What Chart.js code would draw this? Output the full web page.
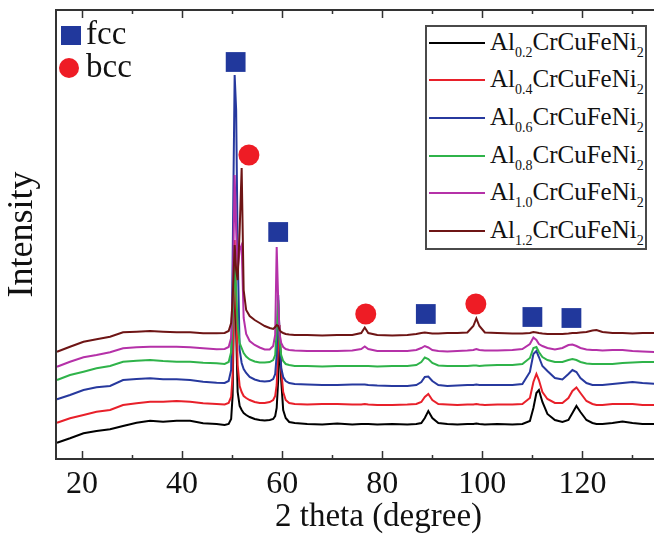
<!DOCTYPE html>
<html>
<head>
<meta charset="utf-8">
<title>XRD AlxCrCuFeNi2</title>
<script src="https://cdn.jsdelivr.net/npm/chart.js@4.4.1/dist/chart.umd.min.js"></script>
<style>
  body { margin: 0; background: #fff; }
  #wrap { position: relative; width: 654px; height: 537px; overflow: hidden; }
  #wrap canvas { position: absolute; left: 0; top: 0; }
  .phase { position: absolute; left: 86px; font: 33px "Liberation Serif", serif; line-height: 33px; color: #111; }
  .sym { position: absolute; }
  #xTitle { position: absolute; left: 275px; top: 499px; font: 33px "Liberation Serif", serif;
            line-height: 33px; color: #111; white-space: nowrap; }
  #alloyLegend { position: absolute; left: 425px; top: 25px; width: 222px; height: 225px;
                 box-sizing: border-box; border: 2px solid #4a4a4a; background: #fff; }
  .row { position: absolute; left: 0; height: 30px; width: 100%; }
  .row .ln { position: absolute; left: 2px; top: 14px; width: 56px; height: 2px; }
  .row .tx { position: absolute; left: 63px; top: 0px; font: 25px "Liberation Serif", serif;
             line-height: 27px; color: #111; white-space: nowrap; }
  .row sub { font-size: 14px; vertical-align: -7px; line-height: 0; }
</style>
</head>
<body>
<div id="wrap">
  <canvas id="xrd"></canvas>
  <div class="sym" style="left:61px;top:26px;width:20px;height:19px;background:#21389c"></div>
  <div class="phase" style="top:17px">fcc</div>
  <div class="sym" style="left:59px;top:58px;width:20px;height:20px;border-radius:50%;background:#ee1c25"></div>
  <div class="phase" style="top:50px">bcc</div>
  <div id="xTitle">2 theta (degree)</div>
  <div id="alloyLegend"></div>
</div>
<script>
// 2 theta grid (degree)
const twoTheta = [
  15, 17.6, 20.3, 22.9, 25.6, 28.2, 30.9, 33.6, 36.2, 38.9, 41.6, 44.2, 46.9,
  48.5, 49.3, 49.8, 50.1, 50.5, 50.8, 51.1, 51.5, 51.9, 52.3, 52.8, 53.5, 54.5, 55.5, 56.5, 57.5,
  58.2, 58.6, 58.9, 59.2, 59.5, 59.8, 60.2, 60.7, 61.4, 62.5,
  65, 68, 71, 74, 75.8, 76.5, 77.2, 79, 82, 85, 86.8, 87.8, 88.5, 89.2, 90, 91.2, 93, 95, 97,
  98.2, 98.8, 99.4, 100.5, 103, 106, 108,
  109.5, 110.2, 110.8, 111.3, 112, 113, 114.5, 116, 117.2, 118, 118.8, 119.6, 120.8, 122, 122.8,
  124, 126, 128, 130, 132, 135
];

// intensities (a.u., curves already offset as in the figure)
const al02 = [
  16.3, 20.7, 25.7, 28, 29.7, 33, 36.3, 38.3, 37.3, 38.3, 38.3, 35.7, 35,
  34, 35, 40, 64, 209, 129, 67, 53, 49, 46, 44, 42, 40, 39, 38.5, 39,
  40, 43, 51, 79, 126, 79, 49, 41, 37, 36,
  35, 34.5, 35.5, 34.5, 35, 35, 35, 34.5, 35, 34.5, 35, 36, 41, 48, 41, 36, 35, 34.5, 35,
  35, 35.5, 35, 34.5, 35, 34.5, 35,
  38, 51, 66, 69, 57, 45, 39, 37, 39, 46, 53, 47, 39, 36, 35,
  35, 36, 37.5, 36, 35, 35
];
const al04 = [
  36.3, 40.7, 44, 47.3, 49, 54, 55.7, 57.3, 57.3, 58, 57.3, 55.7, 55,
  54.5, 56, 62, 84, 219, 154, 94, 73, 67, 63, 61, 59, 57, 56, 56, 57,
  59, 63, 74, 114, 134, 89, 67, 59, 56, 55,
  54.5, 55, 55, 54.5, 54.5, 55, 54.5, 54, 54, 54.5, 55, 57, 62, 65, 59, 55, 54.5, 54, 54.5,
  54.5, 55, 54.5, 54, 54.5, 54.5, 55,
  61, 77, 85, 79, 67, 60, 56, 56, 61, 68, 71.5, 66, 58, 55, 54,
  54, 55, 55, 55, 54, 54
];
const al06 = [
  59.7, 64, 69, 71.7, 73, 79, 80, 80.7, 79.7, 79.7, 79, 77.3, 76.3,
  76, 78, 89, 199, 384, 349, 209, 109, 96, 90, 86, 82, 79.5, 78, 77.5, 78,
  80, 85, 104, 164, 119, 91, 82, 78, 76, 75,
  74.5, 74, 74, 74.5, 74.5, 74.5, 74, 73.5, 73, 73, 74, 77, 82, 82.5, 78, 74, 73, 73.5, 74,
  74, 74.5, 74, 74, 74, 74, 75,
  87, 105, 108, 102, 93, 88, 81, 79.5, 85, 89, 87, 81, 76, 74, 74,
  74, 75, 76, 77, 76, 75
];
const al08 = [
  79, 84, 87.3, 90.7, 93, 97.3, 98.3, 99, 98, 97.3, 97.3, 96.3, 95.7,
  95, 97, 107, 139, 194, 169, 134, 116, 111, 106, 102.5, 99.5, 97.5, 96.5, 96.5, 97,
  99, 104, 129, 159, 119, 104, 98, 95, 94, 93,
  93, 92.5, 93, 93, 93, 93, 93, 92.5, 93, 93, 94, 97, 101.5, 100, 96, 93.5, 93, 93, 93,
  93.5, 93.5, 93, 93.5, 94, 94, 95,
  101, 111, 112, 107, 102, 99, 97, 97, 99, 100, 99, 97, 95.5, 95, 95,
  95, 95, 96, 96.5, 97, 97
];
const al10 = [
  92.3, 97.3, 101.7, 104, 106.7, 110.7, 111.7, 112.3, 112.3, 112.3, 111.7, 110.7, 109.7,
  110, 112, 121, 159, 284, 229, 189, 209, 214, 141, 125, 118, 114, 111.5, 109.5, 109.5,
  113, 124, 212, 159, 124, 116, 112, 110, 109, 108.5,
  108, 108, 108, 108.5, 110, 112.5, 110, 108, 108, 108, 109, 111, 113, 111.5, 109, 108, 107.5, 108, 108.5,
  109, 110, 109, 108.5, 108.5, 109, 110,
  115, 121.5, 119, 115, 113, 111, 109.5, 111, 114, 114.5, 113, 111, 109.5, 109, 109,
  108.5, 109, 109, 108, 107.5, 107
];
const al12 = [
  107.3, 112.3, 117.3, 119.7, 122.3, 126.7, 127.3, 128, 127.3, 126.7, 126.7, 125.7, 125.7,
  126, 128, 136, 159, 214, 189, 179, 229, 291, 169, 149, 143, 139, 136, 133, 131,
  130, 132, 134, 133, 129, 127, 126, 125, 124.5, 124,
  124, 123.5, 124, 124, 126, 131.5, 126, 124, 123.5, 124, 125, 126, 126.5, 126, 125.5, 125.5, 126, 126, 126.5,
  133, 140.5, 133, 126.5, 126, 125.5, 125.5,
  126, 127, 126.5, 126, 125.5, 125, 125, 125, 125.5, 126, 126, 126.5, 127, 128.5, 129,
  127, 126, 126, 125.5, 126, 126
];

const alContent = ['0.2', '0.4', '0.6', '0.8', '1.0', '1.2'];
const intensities = [al02, al04, al06, al08, al10, al12];
const lineColors = ['#000000', '#e8202a', '#27399e', '#2fb34a', '#b531a8', '#6e1515'];

// phase markers
const fccTheta = [50.7, 59.2, 88.7, 110.0, 117.8];
const fccLevel = [397, 227, 145, 142, 141];
const bccTheta = [53.35, 76.7, 98.7];
const bccLevel = [304, 145, 155];

const xTickValues = [20, 40, 60, 80, 100, 120];

const serif = '"Liberation Serif", "Times New Roman", serif';

const datasets = intensities.map((vals, i) => ({
  label: 'Al' + alContent[i] + 'CrCuFeNi2',
  data: twoTheta.map((t, k) => ({x: t, y: vals[k]})),
  borderColor: lineColors[i],
  borderWidth: 2,
  pointRadius: 0,
  tension: 0,
  order: intensities.length - i
}));
datasets.push({
  label: 'fcc',
  data: fccTheta.map((t, k) => ({x: t, y: fccLevel[k]})),
  showLine: false,
  pointStyle: 'rect',
  pointRadius: 14,
  backgroundColor: '#21389c',
  borderColor: '#21389c',
  borderWidth: 0,
  order: 0
});
datasets.push({
  label: 'bcc',
  data: bccTheta.map((t, k) => ({x: t, y: bccLevel[k]})),
  showLine: false,
  pointStyle: 'circle',
  pointRadius: 10.5,
  backgroundColor: '#ee1c25',
  borderColor: '#ee1c25',
  borderWidth: 0,
  order: 0
});

// axis frame with inward major/minor ticks (top and bottom)
const frame = {
  id: 'frame',
  afterDatasetsDraw(chart) {
    const {ctx, chartArea: a, scales: {x}} = chart;
    ctx.save();
    ctx.strokeStyle = '#333';
    ctx.lineWidth = 2;
    ctx.beginPath();
    ctx.moveTo(a.right, a.top);
    ctx.lineTo(a.left, a.top);
    ctx.lineTo(a.left, a.bottom);
    ctx.lineTo(a.right, a.bottom);
    ctx.stroke();
    ctx.lineWidth = 1.5;
    const mark = (v, len) => {
      if (v < x.min || v > x.max) return;
      const px = Math.round(x.getPixelForValue(v)) + 0.5;
      ctx.beginPath();
      ctx.moveTo(px, a.bottom); ctx.lineTo(px, a.bottom - len);
      ctx.moveTo(px, a.top); ctx.lineTo(px, a.top + len);
      ctx.stroke();
    };
    const vals = x.ticks.map(t => t.value);
    const step = vals[1] - vals[0];
    vals.forEach(v => mark(v, 8));
    for (let v = vals[0] - step / 2; v <= x.max; v += step) mark(v, 4);
    ctx.restore();
  }
};

new Chart(document.getElementById('xrd'), {
  type: 'line',
  data: {datasets: datasets},
  options: {
    responsive: true,
    maintainAspectRatio: false,
    animation: false,
    events: [],
    layout: {autoPadding: false, padding: {top: 10, right: 0, left: 0, bottom: 0}},
    plugins: {legend: {display: false}, tooltip: {enabled: false}},
    scales: {
      x: {
        type: 'linear',
        min: 14.8,
        max: 134.3,
        afterBuildTicks: s => { s.ticks = xTickValues.map(v => ({value: v})); },
        afterFit: s => { s.height = 78; },
        grid: {display: false, drawTicks: false},
        border: {display: false},
        ticks: {
          autoSkip: false, maxRotation: 0, padding: 6,
          color: '#111', font: {family: serif, size: 32}
        },
        title: {display: false}
      },
      y: {
        min: 0,
        max: 449,
        afterFit: s => { s.width = 56; },
        grid: {display: false, drawTicks: false},
        border: {display: false},
        ticks: {display: false},
        title: {
          display: true, text: 'Intensity', color: '#111',
          font: {family: serif, size: 36}, padding: {top: 1, bottom: 0}
        }
      }
    }
  },
  plugins: [frame]
});

// alloy legend with subscripts
const box = document.getElementById('alloyLegend');
alContent.forEach((c, i) => {
  const row = '<div class="row" style="top:' + (0.7 + i * 37.66) + 'px">' +
    '<span class="ln" style="background:' + lineColors[i] + '"></span>' +
    '<span class="tx">Al<sub>' + c + '</sub>CrCuFeNi<sub>2</sub></span></div>';
  box.insertAdjacentHTML('beforeend', row);
});
</script>
</body>
</html>
